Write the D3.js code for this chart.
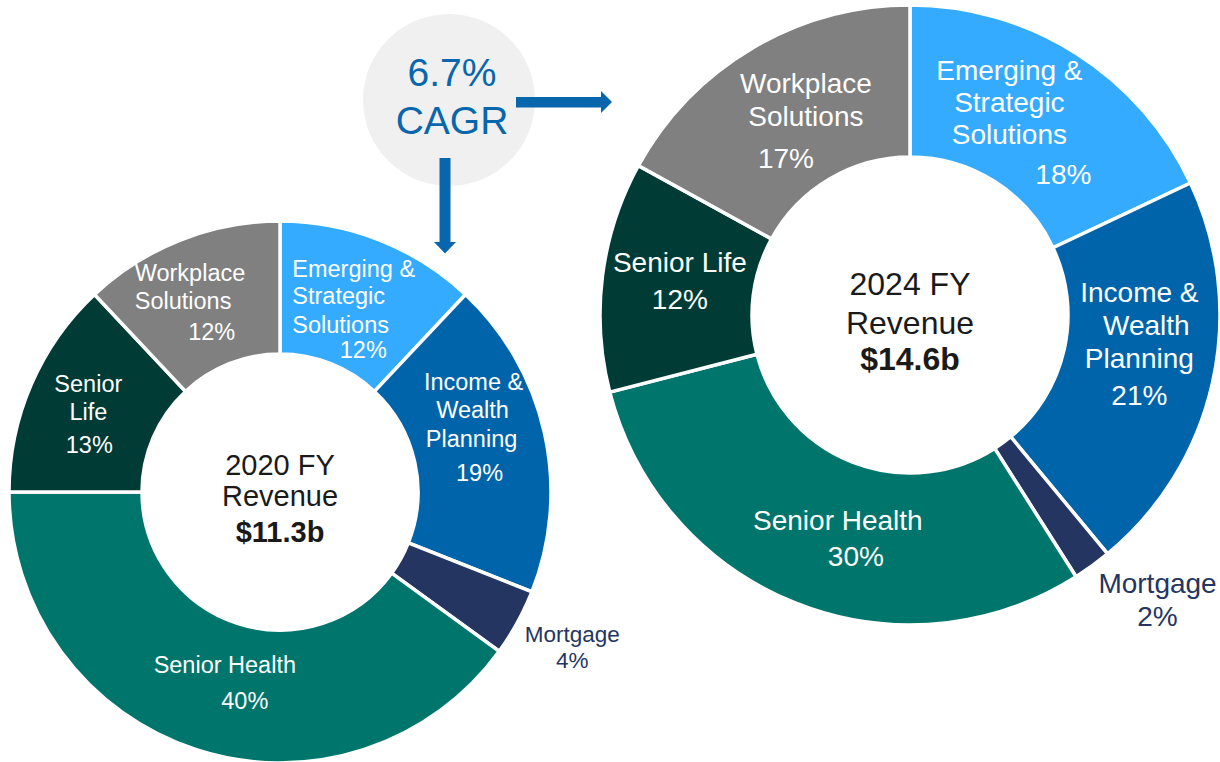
<!DOCTYPE html>
<html>
<head>
<meta charset="utf-8">
<script src="https://cdn.jsdelivr.net/npm/d3@7"></script>
<style>
  html, body { margin: 0; padding: 0; background: #ffffff; }
  svg { display: block; font-family: "Liberation Sans", Arial, sans-serif; }
</style>
</head>
<body>
<svg id="chart" width="1220" height="762"></svg>
<script>
// ---------------- data ----------------
const segments = ["Emerging & Strategic Solutions", "Income & Wealth Planning", "Mortgage", "Senior Health", "Senior Life", "Workplace Solutions"];
const share2020 = [12, 19, 4, 40, 13, 12];
const share2024 = [18, 21, 2, 30, 12, 17];
const yearLabels = ["2020 FY", "2024 FY"];
const revenueLabels = ["$11.3b", "$14.6b"];
const cagrLabel = ["6.7%", "CAGR"];

// ---------------- styles ----------------
const colors = {
  "Emerging & Strategic Solutions": "#35abff",
  "Income & Wealth Planning": "#0064ab",
  "Mortgage": "#253561",
  "Senior Health": "#00756b",
  "Senior Life": "#013b35",
  "Workplace Solutions": "#808080"
};
const accent = "#0866ad";

// label layout: line text, offset from slice centroid, anchor
const layout2020 = {
  "Emerging & Strategic Solutions": [["Emerging &", -63, -25, "start"], ["Strategic", -63, 2, "start"], ["Solutions", -63, 31, "start"], ["12%", 8, 56, "middle"]],
  "Income & Wealth Planning": [["Income &", -6, -57, "middle"], ["Wealth", -7, -29, "middle"], ["Planning", -8, 0, "middle"], ["19%", 0, 34, "middle"]],
  "Mortgage": [["Mortgage", 113, 51, "middle", true], ["4%", 113, 77, "middle", true]],
  "Senior Health": [["Senior Health", 8, -13, "middle"], ["40%", 28, 23, "middle"]],
  "Senior Life": [["Senior", -4, -19, "middle"], ["Life", -4, 9, "middle"], ["13%", -3, 42, "middle"]],
  "Workplace Solutions": [["Workplace", -70, -21, "start"], ["Solutions", -70, 7, "start"], ["12%", 7, 38, "middle"]]
};
const layout2024 = {
  "Emerging & Strategic Solutions": [["Emerging &", -26, -37, "middle"], ["Strategic", -26, -5, "middle"], ["Solutions", -26, 27, "middle"], ["18%", 28, 67, "middle"]],
  "Income & Wealth Planning": [["Income &", 1, -64, "middle"], ["Wealth", 8, -31, "middle"], ["Planning", 1, 2, "middle"], ["21%", 1, 39, "middle"]],
  "Mortgage": [["Mortgage", 110, 89, "middle", true], ["2%", 110, 122, "middle", true]],
  "Senior Health": [["Senior Health", 14, -3, "middle"], ["30%", 32, 33, "middle"]],
  "Senior Life": [["Senior Life", 2, -14, "middle"], ["12%", 2, 23, "middle"]],
  "Workplace Solutions": [["Workplace", 15, -21, "middle"], ["Solutions", 15, 12, "middle"], ["17%", -5, 54, "middle"]]
};

const charts = [
  { values: share2020, cx: 280, cy: 492, rOut: 271, rIn: 138, font: 23.5, mortFont: 22.5, centerFont: 29, centerLines: [-17, 14, 50], layout: layout2020, year: yearLabels[0], rev: revenueLabels[0] },
  { values: share2024, cx: 910, cy: 315, rOut: 310, rIn: 158, font: 28, mortFont: 28, centerFont: 32, centerLines: [-20, 19, 55], layout: layout2024, year: yearLabels[1], rev: revenueLabels[1] }
];

const svg = d3.select("#chart");

charts.forEach(c => {
  const pie = d3.pie().sort(null).value(d => d.v).startAngle(0).endAngle(2 * Math.PI);
  const arcs = pie(segments.map((s, i) => ({ name: s, v: c.values[i] })));
  const arc = d3.arc().innerRadius(c.rIn).outerRadius(c.rOut);
  const g = svg.append("g").attr("transform", `translate(${c.cx},${c.cy})`);

  g.selectAll("path.slice").data(arcs).join("path")
    .attr("class", "slice")
    .attr("d", arc)
    .attr("fill", d => colors[d.data.name])
    .attr("stroke", "#ffffff")
    .attr("stroke-width", 3.5)
    .attr("stroke-linejoin", "miter");

  arcs.forEach(d => {
    const [x0, y0] = arc.centroid(d);
    const lines = c.layout[d.data.name];
    lines.forEach(l => {
      const outside = !!l[4];
      g.append("text")
        .attr("x", x0 + l[1])
        .attr("y", y0 + l[2])
        .attr("text-anchor", l[3])
        .attr("font-size", outside ? c.mortFont : c.font)
        .attr("fill", outside ? colors["Mortgage"] : "#ffffff")
        .text(l[0]);
    });
  });

  g.append("text").attr("x", 0).attr("y", c.centerLines[0]).attr("text-anchor", "middle")
    .attr("font-size", c.centerFont).attr("fill", "#1a1a1a").text(c.year);
  g.append("text").attr("x", 0).attr("y", c.centerLines[1]).attr("text-anchor", "middle")
    .attr("font-size", c.centerFont).attr("fill", "#1a1a1a").text("Revenue");
  g.append("text").attr("x", 0).attr("y", c.centerLines[2]).attr("text-anchor", "middle")
    .attr("font-size", c.centerFont).attr("font-weight", "bold").attr("fill", "#1a1a1a").text(c.rev);
});

// CAGR bubble and arrows
const cg = svg.append("g");
cg.append("circle").attr("cx", 449).attr("cy", 100).attr("r", 86).attr("fill", "#f0f0f0");
cg.append("text").attr("x", 452).attr("y", 86).attr("text-anchor", "middle")
  .attr("font-size", 39).attr("fill", accent).text(cagrLabel[0]);
cg.append("text").attr("x", 452).attr("y", 134).attr("text-anchor", "middle")
  .attr("font-size", 39).attr("fill", accent).text(cagrLabel[1]);

// horizontal arrow
cg.append("rect").attr("x", 516).attr("y", 97).attr("width", 86).attr("height", 10.5).attr("fill", accent);
cg.append("path").attr("d", "M601,91 L612,102 L601,113 Z").attr("fill", accent);
// vertical arrow
cg.append("rect").attr("x", 439.5).attr("y", 158).attr("width", 11).attr("height", 85).attr("fill", accent);
cg.append("path").attr("d", "M434,242 L456,242 L445,253.5 Z").attr("fill", accent);
</script>
</body>
</html>
